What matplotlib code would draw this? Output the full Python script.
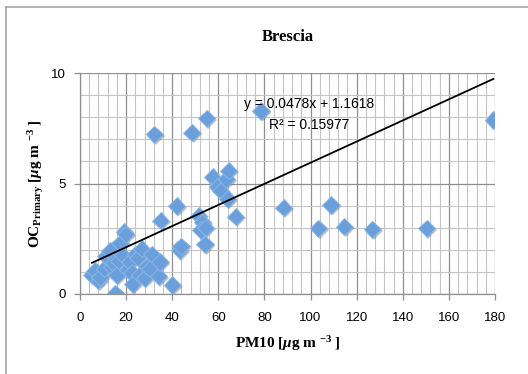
import numpy as np
import matplotlib
matplotlib.use("Agg")
import matplotlib.pyplot as plt
import matplotlib.patheffects as pe
from matplotlib.ticker import MultipleLocator
from matplotlib.lines import Line2D

# PM10 vs primary organic carbon, Brescia site
pm10 = [5.2, 6.5, 8.0, 8.7, 10.5, 11.3, 13.0, 13.7, 14.5, 15.3,
        16.0, 16.8, 17.3, 18.5, 19.2, 19.8, 20.7, 21.5, 22.5, 22.8,
        24.0, 25.0, 26.0, 26.7, 28.0, 29.0, 30.4, 31.1, 32.2, 34.1,
        34.7, 35.0, 40.1, 42.0, 43.2, 43.8, 48.6, 51.5, 53.0, 52.5,
        54.5, 54.2, 54.9, 57.5, 59.5, 61.0, 63.5, 64.5, 64.0, 67.5,
        78.5, 88.3, 103.4, 108.9, 114.6, 126.8, 150.4, 179.3]
oc_primary = [0.86, 1.05, 0.60, 0.75, 1.15, 1.70, 1.95, 1.20, 1.40, 0.03,
              0.86, 1.50, 2.30, 1.75, 2.80, 2.70, 1.10, 1.45, 0.95, 0.45,
              1.80, 1.65, 0.86, 2.05, 0.72, 1.25, 1.15, 1.80, 7.22, 0.80,
              1.45, 3.32, 0.41, 3.98, 1.98, 2.15, 7.30, 3.55, 3.25, 2.90,
              3.00, 2.25, 7.95, 5.30, 4.85, 4.68, 5.20, 5.58, 4.30, 3.50,
              8.28, 3.91, 2.97, 4.03, 3.05, 2.93, 2.97, 7.87]

slope = 0.0478
intercept = 1.1618
r_squared = "0.15977"

x_ticks = [0, 20, 40, 60, 80, 100, 120, 140, 160, 180]
y_ticks = [0, 5, 10]

plt.rcParams["mathtext.fontset"] = "custom"
plt.rcParams["mathtext.rm"] = "Liberation Serif:bold"
plt.rcParams["mathtext.it"] = "Liberation Serif:italic:bold"
plt.rcParams["mathtext.bf"] = "Liberation Serif:bold"

fig = plt.figure(figsize=(5.28, 3.74), dpi=100)
ax = fig.add_axes([80 / 528, 1 - 294 / 374, 415 / 528, 221 / 374])

# grid
ax.set_axisbelow(True)
ax.xaxis.set_major_locator(MultipleLocator(20))
ax.xaxis.set_minor_locator(MultipleLocator(4))
ax.yaxis.set_major_locator(MultipleLocator(5))
ax.yaxis.set_minor_locator(MultipleLocator(1))
ax.grid(which="major", color="#8f8f8f", linewidth=0.9)
ax.grid(which="minor", color="#c4c4c4", linewidth=0.8)

ax.plot(pm10, oc_primary, linestyle="none", marker="D", markersize=8.8,
        markerfacecolor="#6a9fdb", markeredgecolor="#8ab6e6",
        markeredgewidth=0.7, zorder=3,
        path_effects=[pe.SimplePatchShadow(offset=(1.2, -1.2), shadow_rgbFace="#555555", alpha=0.35),
                      pe.Normal()])

# linear trend line over the data range
xl = np.array([min(pm10), max(pm10)])
ax.plot(xl, slope * xl + intercept, color="black", linewidth=1.3, zorder=4)

ax.text(99.3, 8.6, f"y = {slope}x + {intercept}", ha="center", va="center",
        fontsize=10, family="Liberation Sans", zorder=5)
ax.text(99.3, 7.65, f"R² = {r_squared}", ha="center", va="center",
        fontsize=10, family="Liberation Sans", zorder=5)

ax.set_xlim(0, 180)
ax.set_ylim(0, 10)
ax.set_xticks(x_ticks)
ax.set_yticks(y_ticks)
for s in ["top", "right"]:
    ax.spines[s].set_visible(False)
for s in ["left", "bottom"]:
    ax.spines[s].set_color("#8f8f8f")
    ax.spines[s].set_linewidth(0.9)
ax.tick_params(which="major", direction="out", length=4, width=0.9, color="#8f8f8f",
               labelsize=9.5)
ax.tick_params(axis="x", which="major", pad=9)
ax.tick_params(axis="y", which="major", pad=6)
ax.tick_params(which="minor", length=0)
for lab in ax.get_xticklabels() + ax.get_yticklabels():
    lab.set_family("Liberation Sans")

ax.set_title("Brescia", family="Liberation Serif", fontweight="bold", fontsize=12, pad=23)
ax.set_xlabel(r"PM10 [$\mathit{\mu}$g m $^{-3}$ ]", family="Liberation Serif",
              fontweight="bold", fontsize=11, labelpad=7)
ax.set_ylabel(r"OC$_{\mathrm{Primary}}$ [$\mathit{\mu}$g m $^{-3}$ ]", family="Liberation Serif",
              fontweight="bold", fontsize=11, labelpad=4)

# chart area border
fig.add_artist(Line2D([6 / 528, 6 / 528], [0, 1 - 7 / 374], color="#a6a6a6", linewidth=1.2))
fig.add_artist(Line2D([6 / 528, 1], [1 - 7 / 374, 1 - 7 / 374], color="#a6a6a6", linewidth=1.2))

fig.savefig("out.png", dpi=100)
